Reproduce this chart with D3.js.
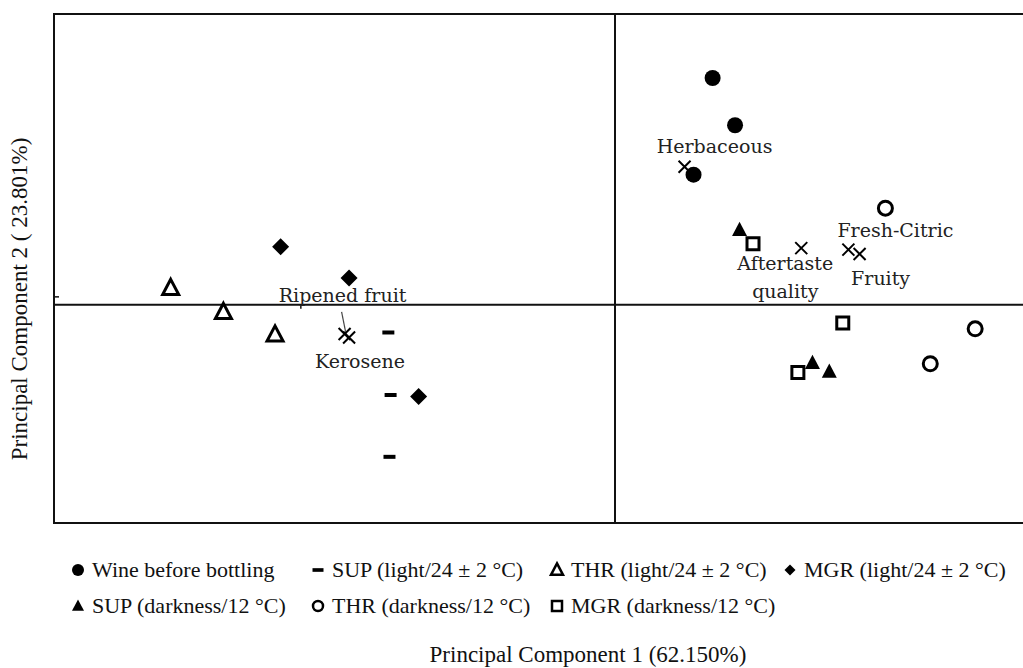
<!DOCTYPE html>
<html>
<head>
<meta charset="utf-8">
<script src="https://cdn.jsdelivr.net/npm/d3@7"></script>
<style>
  body { margin: 0; background: #fff; }
  .lbl { font-family: "DejaVu Serif", serif; font-size: 19px; fill: #222; }
  .leg, .ttl { font-family: "Liberation Serif", "Times New Roman", serif; fill: #111; }
  .leg { font-size: 22px; }
  .ttl { font-size: 23px; }
</style>
</head>
<body>
<svg class="pca"></svg>
<script>
// sample scores on (PC1, PC2)
var wineBefore = [[0.87, 3.12], [1.07, 2.47], [0.70, 1.79]];
var supLight = [[-2.02, -0.38], [-2.00, -1.24], [-2.01, -2.09]];
var thrLight = [[-3.96, 0.23], [-3.49, -0.10], [-3.03, -0.41]];
var mgrLight = [[-2.98, 0.80], [-2.37, 0.37], [-1.75, -1.26]];
var supDark = [[1.11, 1.03], [1.76, -0.80], [1.91, -0.92]];
var thrDark = [[2.41, 1.33], [3.21, -0.33], [2.81, -0.81]];
var mgrDark = [[1.23, 0.84], [2.03, -0.25], [1.63, -0.93]];

// sensory attributes (loadings)
var attrNames = ["Herbaceous", "Aftertaste quality", "Fresh-Citric", "Fruity", "Ripened fruit", "Kerosene"];
var attrScores = [[0.62, 1.90], [1.66, 0.78], [2.08, 0.76], [2.18, 0.70], [-2.41, -0.40], [-2.37, -0.45]];

var groupNames = ["Wine before bottling", "SUP (light/24 ± 2 °C)", "THR (light/24 ± 2 °C)",
  "MGR (light/24 ± 2 °C)", "SUP (darkness/12 °C)", "THR (darkness/12 °C)", "MGR (darkness/12 °C)"];
var xTitle = "Principal Component 1 (62.150%)";
var yTitle = "Principal Component 2 ( 23.801%)";

var groups = [wineBefore, supLight, thrLight, mgrLight, supDark, thrDark, mgrDark];
var kinds = ["dot", "dash", "tri", "diamond", "triFill", "ring", "box"];

// where the attribute labels sit relative to their mark (px)
var labelPos = {
  "Herbaceous": [[30, -14]],
  "Aftertaste quality": [[-16, 22], [-16, 50]],
  "Fresh-Citric": [[47, -13]],
  "Fruity": [[21, 31]],
  "Ripened fruit": [[-2, -32]],
  "Kerosene": [[11, 30]]
};

var W = 1023, H = 668;
var svg = d3.select(".pca").attr("width", W).attr("height", H);

var x = d3.scaleLinear().domain([-5, 5]).range([54, 1176]);
var y = d3.scaleLinear().domain([-3, 4]).range([523, 14]);

// path for each marker kind, s = nominal size
function markPath(kind, s) {
  var p = d3.path();
  if (kind == "dot" || kind == "ring") {
    p.arc(0, 0, s / 2, 0, 2 * Math.PI);
  } else if (kind == "tri" || kind == "triFill") {
    p.moveTo(0, -s * 0.55); p.lineTo(s / 2, s * 0.4); p.lineTo(-s / 2, s * 0.4); p.closePath();
  } else if (kind == "box") {
    p.rect(-s / 2, -s / 2, s, s);
  } else if (kind == "diamond") {
    p.moveTo(0, -s / 2); p.lineTo(s / 2, 0); p.lineTo(0, s / 2); p.lineTo(-s / 2, 0); p.closePath();
  } else if (kind == "dash") {
    p.rect(-s / 2, -s / 6, s, s / 3);
  } else if (kind == "cross") {
    p.moveTo(-s / 2, -s / 2); p.lineTo(s / 2, s / 2);
    p.moveTo(s / 2, -s / 2); p.lineTo(-s / 2, s / 2);
  }
  return p.toString();
}

function styleMark(sel, kind, big) {
  var open = (kind == "ring" || kind == "box" || kind == "tri" || kind == "cross");
  sel.attr("fill", open ? "none" : "#000")
    .attr("stroke", open ? "#000" : "none")
    .attr("stroke-width", kind == "cross" ? 2 : (big ? 3 : 2.5))
    .attr("stroke-linejoin", "miter");
}

var plotSize = { dot: 16, ring: 14, tri: 16, triFill: 15, box: 12, diamond: 17, dash: 12, cross: 12 };
var legSize = { dot: 12, ring: 10, tri: 12, triFill: 12, box: 10, diamond: 11, dash: 11, cross: 10 };

// frame and the two zero lines
svg.append("rect")
  .attr("x", x(-5)).attr("y", y(4))
  .attr("width", x(5) - x(-5)).attr("height", y(-3) - y(4))
  .attr("fill", "none").attr("stroke", "#111").attr("stroke-width", 2);

svg.append("line")
  .attr("x1", x(0)).attr("x2", x(0)).attr("y1", y(4)).attr("y2", y(-3))
  .attr("stroke", "#111").attr("stroke-width", 2);

svg.append("line")
  .attr("x1", x(-5)).attr("x2", x(5)).attr("y1", y(0)).attr("y2", y(0))
  .attr("stroke", "#111").attr("stroke-width", 2);

// small leftover ticks
svg.append("line")
  .attr("x1", x(-2.8)).attr("x2", x(-2.8)).attr("y1", y(0)).attr("y2", y(0) + 4)
  .attr("stroke", "#111").attr("stroke-width", 1.5);
svg.append("line")
  .attr("x1", x(-5)).attr("x2", x(-5) + 5).attr("y1", y(0.11)).attr("y2", y(0.11))
  .attr("stroke", "#111").attr("stroke-width", 1.5);

// attribute crosses
svg.selectAll(".attr")
  .data(attrScores)
  .enter().append("path")
  .attr("class", "attr")
  .attr("transform", function(d) { return "translate(" + x(d[0]) + "," + y(d[1]) + ")"; })
  .attr("d", markPath("cross", plotSize.cross))
  .call(styleMark, "cross", true);

// sample marks
groups.forEach(function(g, i) {
  svg.selectAll(".g" + i)
    .data(g)
    .enter().append("path")
    .attr("class", "g" + i)
    .attr("transform", function(d) { return "translate(" + x(d[0]) + "," + y(d[1]) + ")"; })
    .attr("d", markPath(kinds[i], plotSize[kinds[i]]))
    .call(styleMark, kinds[i], true);
});

// attribute labels
attrNames.forEach(function(name, i) {
  var words = name == "Aftertaste quality" ? ["Aftertaste", "quality"] : [name];
  words.forEach(function(w, j) {
    var off = labelPos[name][j];
    svg.append("text")
      .attr("class", "lbl")
      .attr("x", x(attrScores[i][0]) + off[0])
      .attr("y", y(attrScores[i][1]) + off[1])
      .attr("text-anchor", "middle")
      .text(w);
  });
});

// leader line from "Ripened fruit" to its mark
var rf = attrScores[attrNames.indexOf("Ripened fruit")];
svg.append("line")
  .attr("x1", x(rf[0]) - 3).attr("y1", y(rf[1]) - 22)
  .attr("x2", x(rf[0]) + 1).attr("y2", y(rf[1]) - 2)
  .attr("stroke", "#444").attr("stroke-width", 1.2);

// legend, two rows
var legCols = [78, 318, 557, 790];
var legRows = [577, 613];
groupNames.forEach(function(name, i) {
  var cx = legCols[i % 4], by = legRows[Math.floor(i / 4)];
  svg.append("path")
    .attr("transform", "translate(" + cx + "," + (by - 7) + ")")
    .attr("d", markPath(kinds[i], legSize[kinds[i]]))
    .call(styleMark, kinds[i], false);
  svg.append("text")
    .attr("class", "leg")
    .attr("x", cx + 14)
    .attr("y", by)
    .text(name);
});

// axis titles
svg.append("text")
  .attr("class", "ttl")
  .attr("x", 588).attr("y", 662)
  .attr("text-anchor", "middle")
  .text(xTitle);

svg.append("text")
  .attr("class", "ttl")
  .attr("transform", "translate(27,299) rotate(-90)")
  .attr("text-anchor", "middle")
  .text(yTitle);
</script>
</body>
</html>
